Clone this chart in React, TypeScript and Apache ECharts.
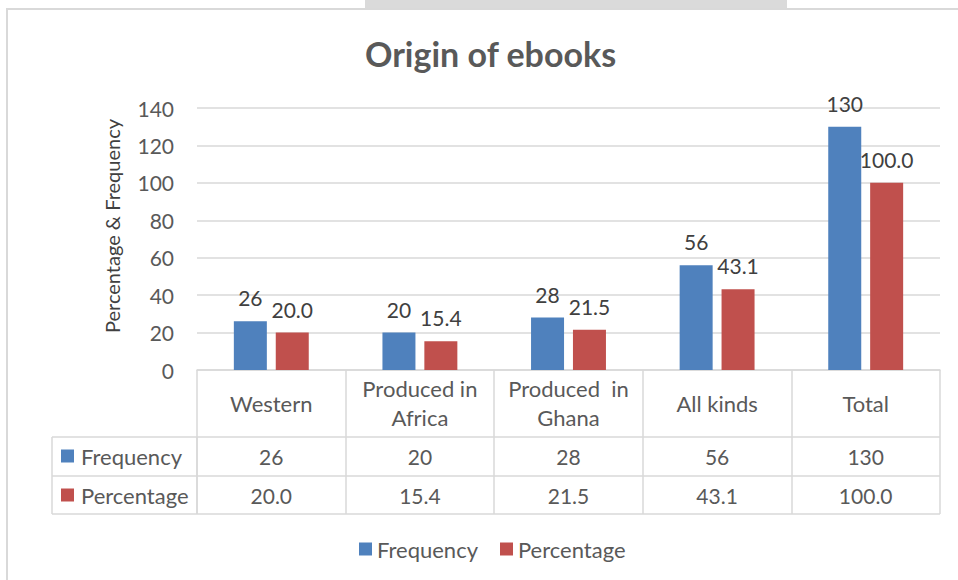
import React, { useEffect, useRef } from "react";
import * as echarts from "echarts";

const categories = ["Western", "Produced in\nAfrica", "Produced  in\nGhana", "All kinds", "Total"];
const frequency = [26, 20, 28, 56, 130];
const percentage = [20.0, 15.4, 21.5, 43.1, 100.0];
const seriesNames = ["Frequency", "Percentage"];
const yTicks = { min: 0, max: 140, interval: 20 };
const title = "Origin of ebooks";
const yName = "Percentage & Frequency";

const BLUE = "#4f81bd";
const RED = "#c0504d";
const TXT = "#595959";
const GRID = "#d9d9d9";
const FONT = "Lato, 'Noto Sans', sans-serif";

export default function App() {
  const ref = useRef<HTMLDivElement>(null);
  useEffect(() => {
    const el = ref.current!;
    const chart = echarts.init(el, null, { renderer: "svg" });
    const option: any = {
      animation: false,
      backgroundColor: "#ffffff",
      textStyle: { fontFamily: FONT },
      title: {
        text: title,
        left: 360,
        top: 31,
        textStyle: { fontFamily: FONT, fontSize: 34, fontWeight: "bold", color: TXT },
      },
      legend: {
        data: seriesNames,
        left: 354,
        top: 533,
        icon: "rect",
        itemWidth: 13,
        itemHeight: 13,
        itemGap: 22,
        textStyle: { fontFamily: FONT, fontSize: 22, color: TXT },
      },
      grid: { left: 197, right: 18, top: 108, bottom: 210, containLabel: false },
      xAxis: {
        type: "category",
        data: categories,
        axisLine: { show: true, lineStyle: { color: GRID, width: 1.5 } },
        axisTick: { show: true, interval: 0, length: 144, lineStyle: { color: GRID, width: 1.5 } },
        axisLabel: {
          interval: 0,
          margin: 33,
          verticalAlign: "middle",
          lineHeight: 29,
          fontFamily: FONT,
          fontSize: 22,
          color: TXT,
        },
      },
      yAxis: {
        type: "value",
        min: yTicks.min,
        max: yTicks.max,
        interval: yTicks.interval,
        name: yName,
        nameLocation: "middle",
        nameGap: 75,
        nameTextStyle: { fontFamily: FONT, fontSize: 20, color: "#404040", padding: [0, 0, 0, 26] },
        axisLine: { show: false },
        axisTick: { show: false },
        axisLabel: { margin: 23, fontFamily: FONT, fontSize: 21, color: TXT },
        splitLine: { lineStyle: { color: GRID, width: 1.5 } },
      },
      series: [
        {
          name: seriesNames[0],
          type: "bar",
          data: frequency,
          barWidth: 33,
          barGap: "27%",
          itemStyle: { color: BLUE },
          label: {
            show: true,
            position: "top",
            distance: 13,
            fontFamily: FONT,
            fontSize: 21,
            color: "#404040",
          },
        },
        {
          name: seriesNames[1],
          type: "bar",
          data: percentage,
          barWidth: 33,
          itemStyle: { color: RED },
          label: {
            show: true,
            position: "top",
            distance: 13,
            fontFamily: FONT,
            fontSize: 21,
            color: "#404040",
            formatter: (p: any) => Number(p.value).toFixed(1),
          },
        },
      ],
    };
    chart.setOption(option);

    // Data table built from the arrays, positioned via the chart's category scale
    const left = 52;
    const plotLeft = 197;
    const plotRight = 940;
    const rowTops = [437, 476, 514];
    const rowCenters = [456, 495];
    const graphics: any[] = [];
    graphics.push({
      type: "rect",
      shape: { x: 7, y: 9, width: 960, height: 580 },
      style: { fill: "none", stroke: "#d9d9d9", lineWidth: 2 },
      silent: true,
      z: -1,
    });
    graphics.push({
      type: "rect",
      shape: { x: 365, y: 0, width: 422, height: 8 },
      style: { fill: "#dadada" },
      silent: true,
    });
    rowTops.forEach((y) => {
      graphics.push({
        type: "line",
        shape: { x1: left, y1: y, x2: plotRight, y2: y },
        style: { stroke: GRID, lineWidth: 1.5 },
      });
    });
    graphics.push({
      type: "line",
      shape: { x1: left, y1: rowTops[0], x2: left, y2: rowTops[2] },
      style: { stroke: GRID, lineWidth: 1.5 },
    });
    graphics.push({
      type: "line",
      shape: { x1: plotLeft, y1: rowTops[0], x2: plotLeft, y2: rowTops[2] },
      style: { stroke: GRID, lineWidth: 1.5 },
    });
    const rows = [
      { name: seriesNames[0], color: BLUE, values: frequency.map((v) => String(v)) },
      { name: seriesNames[1], color: RED, values: percentage.map((v) => v.toFixed(1)) },
    ];
    rows.forEach((row, r) => {
      const cy = rowCenters[r];
      graphics.push({
        type: "rect",
        shape: { x: 61, y: cy - 6.5, width: 13, height: 13 },
        style: { fill: row.color },
      });
      graphics.push({
        type: "text",
        x: 81,
        y: cy,
        style: {
          text: row.name,
          fontFamily: FONT,
          fontSize: 22,
          fill: TXT,
          verticalAlign: "middle",
          align: "left",
        },
      });
      row.values.forEach((v, i) => {
        const px = chart.convertToPixel({ xAxisIndex: 0 }, i) as number;
        graphics.push({
          type: "text",
          x: px,
          y: cy,
          style: {
            text: v,
            fontFamily: FONT,
            fontSize: 21,
            fill: TXT,
            align: "center",
            verticalAlign: "middle",
          },
        });
      });
    });
    chart.setOption({ graphic: graphics });

    return () => chart.dispose();
  }, []);
  return (
    <div
      ref={ref}
      style={{ position: "absolute", left: 0, top: 0, width: 958, height: 580, background: "#fff" }}
    />
  );
}
